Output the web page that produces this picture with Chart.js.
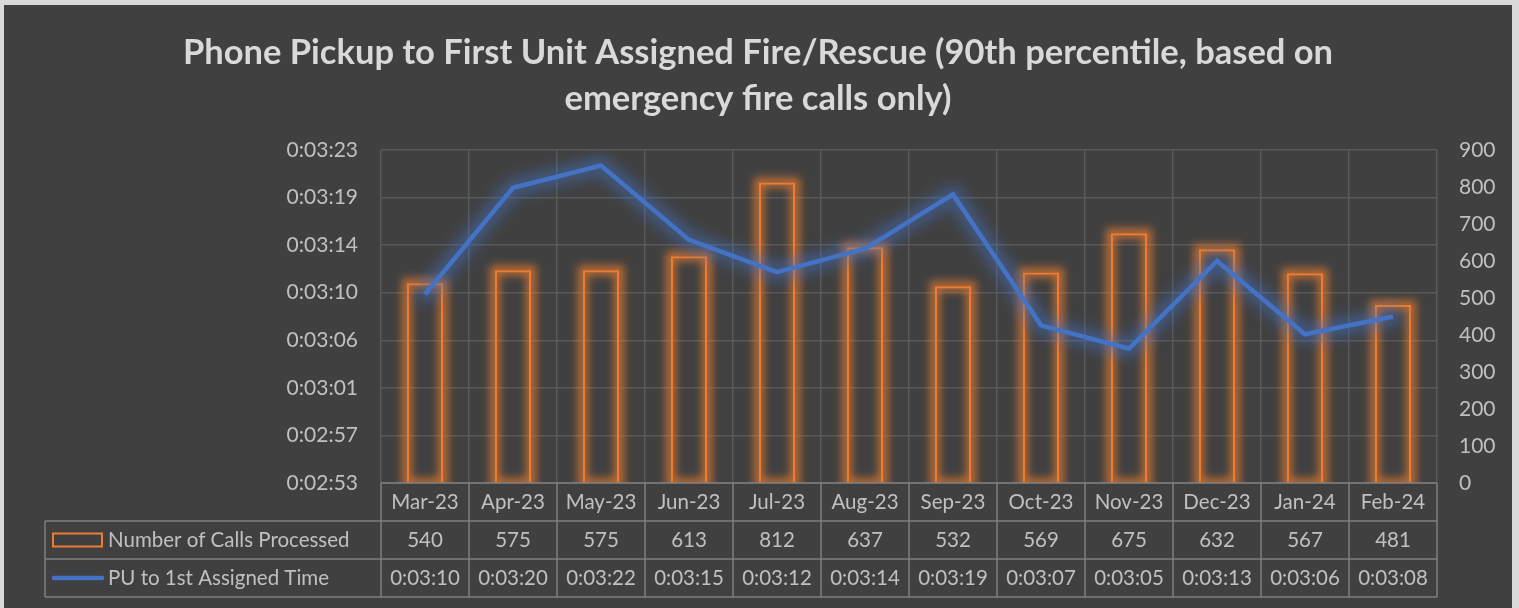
<!DOCTYPE html>
<html>
<head>
<title>Phone Pickup to First Unit Assigned Fire/Rescue</title>
<script src="https://cdn.jsdelivr.net/npm/chart.js@4.4.0/dist/chart.umd.min.js"></script>
<style>
body { margin: 0; background: #d9d9d9; }
#wrap { position: absolute; left: 4px; top: 5px; width: 1508px; height: 603px; background: #404040; }
</style>
</head>
<body>
<div id="wrap"><canvas id="myCanvas" width="1508" height="603" style="width:1508px;height:603px"></canvas></div>
<script>
// data
var months = ['Mar-23', 'Apr-23', 'May-23', 'Jun-23', 'Jul-23', 'Aug-23', 'Sep-23', 'Oct-23', 'Nov-23', 'Dec-23', 'Jan-24', 'Feb-24'];
var calls = [540, 575, 575, 613, 812, 637, 532, 569, 675, 632, 567, 481];
// PU to 1st assigned time, in seconds
var puSeconds = [190.0, 199.6, 201.6, 194.9, 192.0, 194.1, 199.0, 187.2, 185.1, 193.0, 186.4, 188.0];
var timeTicks = ['0:02:53', '0:02:57', '0:03:01', '0:03:06', '0:03:10', '0:03:14', '0:03:19', '0:03:23'];
var timeMin = 173, timeMax = 203;
var callsMax = 900, callsStep = 100;

var FONT = 'Lato, Calibri, "Open Sans", sans-serif';
var TXT = '#c0c0c0';

function fmt(s) {
  s = Math.round(s);
  var m = Math.floor(s / 60), ss = s % 60;
  return '0:' + (m < 10 ? '0' : '') + m + ':' + (ss < 10 ? '0' : '') + ss;
}

// soft glow like excel's effect, drawn under each dataset
var glow = {
  id: 'glow',
  beforeDatasetDraw: function(chart, args) {
    var ctx = chart.ctx, meta = args.meta, ca = chart.chartArea;
    ctx.save();
    ctx.beginPath();
    ctx.rect(ca.left, ca.top, ca.right - ca.left, ca.bottom - ca.top);
    ctx.clip();
    if (meta.type === 'bar') {
      ctx.filter = 'blur(4px)';
      ctx.strokeStyle = 'rgba(237,125,49,0.7)';
      ctx.lineWidth = 10;
      meta.data.forEach(function(el) {
        var p = el.getProps(['x', 'y', 'base', 'width'], true);
        ctx.strokeRect(p.x - p.width / 2, p.y, p.width, p.base - p.y);
      });
    } else {
      ctx.filter = 'blur(7px)';
      ctx.strokeStyle = 'rgba(68,114,196,0.5)';
      ctx.lineWidth = 18;
      ctx.lineJoin = 'round';
      ctx.lineCap = 'round';
      ctx.beginPath();
      meta.data.forEach(function(pt, i) {
        if (i === 0) ctx.moveTo(pt.x, pt.y); else ctx.lineTo(pt.x, pt.y);
      });
      ctx.stroke();
    }
    ctx.restore();
  }
};

// data table under the plot
var dataTable = {
  id: 'dataTable',
  afterDraw: function(chart) {
    var ctx = chart.ctx, ca = chart.chartArea, xs = chart.scales.x;
    var n = months.length, colW = (ca.right - ca.left) / n, rowH = 38;
    var legLeft = 41, b = ca.bottom;
    ctx.save();
    ctx.strokeStyle = '#7f7f7f';
    ctx.lineWidth = 1.5;
    ctx.beginPath();
    ctx.moveTo(ca.left, b); ctx.lineTo(ca.right, b);
    for (var r = 1; r <= 3; r++) {
      ctx.moveTo(legLeft, b + r * rowH); ctx.lineTo(ca.right, b + r * rowH);
    }
    for (var i = 0; i <= n; i++) {
      ctx.moveTo(ca.left + i * colW, b); ctx.lineTo(ca.left + i * colW, b + 3 * rowH);
    }
    ctx.moveTo(legLeft, b + rowH); ctx.lineTo(legLeft, b + 3 * rowH);
    ctx.stroke();

    ctx.fillStyle = TXT;
    ctx.font = '20.5px ' + FONT;
    ctx.textAlign = 'center';
    ctx.textBaseline = 'middle';
    for (var j = 0; j < n; j++) {
      var cx = xs.getPixelForValue(j);
      ctx.fillText(months[j], cx, b + rowH * 0.5);
      ctx.fillText(String(calls[j]), cx, b + rowH * 1.5);
      ctx.fillText(fmt(puSeconds[j]), cx, b + rowH * 2.5);
    }
    ctx.textAlign = 'left';
    ctx.fillText('Number of Calls Processed', legLeft + 63, b + rowH * 1.5);
    ctx.fillText('PU to 1st Assigned Time', legLeft + 63, b + rowH * 2.5);

    ctx.strokeStyle = '#ed7d31';
    ctx.lineWidth = 2;
    ctx.strokeRect(legLeft + 8, b + rowH * 1.5 - 6.5, 49, 13);
    ctx.strokeStyle = '#4472c4';
    ctx.lineWidth = 4.5;
    ctx.lineCap = 'round';
    ctx.beginPath();
    ctx.moveTo(legLeft + 9, b + rowH * 2.5);
    ctx.lineTo(legLeft + 57, b + rowH * 2.5);
    ctx.stroke();
    ctx.restore();
  }
};

new Chart(document.getElementById('myCanvas'), {
  type: 'bar',
  data: {
    labels: months,
    datasets: [{
      type: 'line',
      label: 'PU to 1st Assigned Time',
      data: puSeconds,
      yAxisID: 'y',
      borderColor: '#4472c4',
      borderWidth: 4.5,
      pointRadius: 0,
      tension: 0,
      order: 0
    }, {
      type: 'bar',
      label: 'Number of Calls Processed',
      data: calls,
      yAxisID: 'y1',
      borderColor: '#ed7d31',
      backgroundColor: 'rgba(0,0,0,0)',
      borderWidth: 2,
      barPercentage: 0.41,
      categoryPercentage: 1,
      order: 1
    }]
  },
  options: {
    responsive: false,
    animation: false,
    layout: { padding: { top: 0, left: 0, right: 0, bottom: 125 } },
    plugins: {
      legend: { display: false },
      tooltip: { enabled: false },
      title: {
        display: true,
        text: ['Phone Pickup to First Unit Assigned Fire/Rescue (90th percentile, based on', 'emergency fire calls only)'],
        color: '#d9d9d9',
        font: { family: FONT, size: 34.5, weight: 'bold', lineHeight: 1.333 },
        padding: { top: 25, bottom: 28 }
      }
    },
    scales: {
      x: {
        grid: { color: '#595959', lineWidth: 1.5, offset: true, drawTicks: false },
        border: { display: false },
        ticks: { display: false },
        afterFit: function(s) { s.height = 0; }
      },
      y: {
        position: 'left',
        min: timeMin,
        max: timeMax,
        afterBuildTicks: function(s) {
          s.ticks = timeTicks.map(function(t, i) {
            return { value: timeMin + i * (timeMax - timeMin) / (timeTicks.length - 1) };
          });
        },
        ticks: {
          callback: function(v, i) { return timeTicks[i]; },
          color: TXT,
          font: { family: FONT, size: 21 },
          padding: 23
        },
        grid: { color: '#595959', lineWidth: 1.5, drawTicks: false },
        border: { display: false },
        afterFit: function(s) { s.width = 377; }
      },
      y1: {
        position: 'right',
        min: 0,
        max: callsMax,
        ticks: {
          stepSize: callsStep,
          color: TXT,
          font: { family: FONT, size: 21 },
          padding: 22
        },
        grid: { display: false, drawTicks: false },
        border: { display: false },
        afterFit: function(s) { s.width = 75; }
      }
    }
  },
  plugins: [glow, dataTable]
});
</script>
</body>
</html>
